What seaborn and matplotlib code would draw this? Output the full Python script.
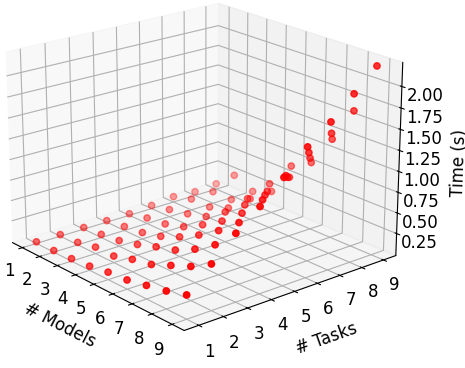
import numpy as np
import matplotlib
matplotlib.use("Agg")
import matplotlib.pyplot as plt
import seaborn as sns

sns.set_style("white", rc={"grid.color": "#b0b0b0", "axes.edgecolor": "black", "xtick.color": "black",
                           "ytick.color": "black", "text.color": "black", "axes.labelcolor": "black"})
plt.rcParams['font.family'] = ['DejaVu Sans']

models = [1, 2, 3, 4, 5, 6, 7, 8, 9]
tasks = [1, 2, 3, 4, 5, 6, 7, 8, 9]
z_ticks = [0.25, 0.5, 0.75, 1.0, 1.25, 1.5, 1.75, 2.0]
# rows = models, columns = tasks
times = [
    [0.00, 0.00, 0.00, 0.00, 0.00, 0.02, 0.05, 0.03, 0.05],
    [0.00, 0.01, 0.02, 0.03, 0.05, 0.07, 0.12, 0.13, 0.26],
    [0.01, 0.06, 0.05, 0.06, 0.08, 0.12, 0.12, 0.13, 0.15],
    [0.03, 0.06, 0.11, 0.12, 0.15, 0.19, 0.21, 0.24, 0.25],
    [0.07, 0.13, 0.19, 0.22, 0.28, 0.35, 0.43, 0.53, 0.67],
    [0.09, 0.18, 0.26, 0.35, 0.43, 0.54, 0.62, 0.71, 0.81],
    [0.14, 0.28, 0.38, 0.51, 0.63, 0.76, 0.89, 1.04, 1.19],
    [0.19, 0.38, 0.54, 0.71, 0.89, 1.09, 1.28, 1.43, 1.62],
    [0.26, 0.52, 0.78, 1.00, 1.25, 1.52, 1.73, 1.98, 2.23],
]

mm, tt = np.meshgrid(models, tasks, indexing='ij')
fig = plt.figure(figsize=(4.65, 3.68), dpi=100)
ax = fig.add_axes([-0.075, 0.066, 1.0, 1.0], projection='3d')
ax.scatter(mm.ravel(), tt.ravel(), np.array(times).ravel(), c='red', s=21, depthshade=True)
ax.view_init(elev=20, azim=-40)
ax.set_box_aspect((4, 4, 2.95), zoom=1.165)
ax.set_zlim(-0.02, 2.28, view_margin=0)
ax.set_xlabel('# Models', fontsize=12, labelpad=0)
ax.set_ylabel('# Tasks', fontsize=12, labelpad=2)
ax.set_zlabel('Time (s)', fontsize=12, labelpad=0)
ax.set_xticks(models)
ax.set_yticks(tasks)
ax.set_zticks(z_ticks)
ax.tick_params(labelsize=12, pad=0)
fig.savefig('out.png', dpi=100)
